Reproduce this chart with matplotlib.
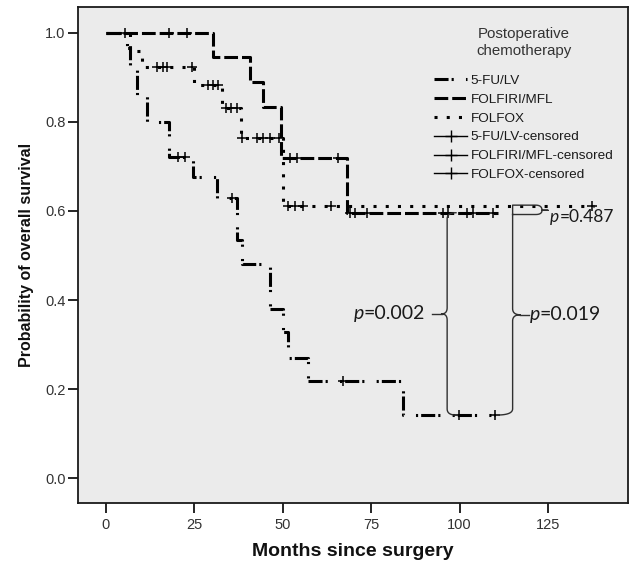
import matplotlib
matplotlib.use("Agg")
import matplotlib.pyplot as plt
import numpy as np
from matplotlib.lines import Line2D

# Kaplan-Meier step data (event times in months, survival after each step)
fu_times = [0, 6.0, 6.8, 9.0, 11.7, 18.0, 24.7, 31.5, 37.0, 38.5, 46.4, 50.1, 51.6, 57.2, 84.0]
fu_surv = [1.0, 0.965, 0.927, 0.859, 0.799, 0.721, 0.676, 0.629, 0.535, 0.481, 0.38, 0.329, 0.269, 0.218, 0.142]
fu_end = 110.0
fu_cens = [20.5, 22.4, 35.7, 67.0, 99.8, 110.0]

fir_times = [0, 30.3, 40.8, 44.4, 49.5, 68.2]
fir_surv = [1.0, 0.946, 0.890, 0.833, 0.719, 0.596]
fir_end = 111.0
fir_cens = [5.5, 18.0, 23.0, 52.0, 54.0, 65.6, 69.0, 70.5, 73.8, 95.3, 96.7, 102.0, 103.8, 109.5]

fox_times = [0, 6.9, 10.4, 25.0, 33.0, 38.3, 50.1]
fox_surv = [1.0, 0.958, 0.924, 0.883, 0.832, 0.764, 0.611]
fox_end = 138.0
fox_cens = [14.5, 16.3, 17.4, 24.4, 29.0, 30.4, 31.8, 34.0, 35.5, 37.0, 38.6, 42.7, 44.5, 46.4,
            49.0, 51.5, 53.5, 55.8, 63.6, 137.5]

legend_labels = ["5-FU/LV", "FOLFIRI/MFL", "FOLFOX",
                 "5-FU/LV-censored", "FOLFIRI/MFL-censored", "FOLFOX-censored"]
p_values = ["0.002", "0.019", "0.487"]

x_ticks = [0, 25, 50, 75, 100, 125]
y_ticks = [0.0, 0.2, 0.4, 0.6, 0.8, 1.0]

styles = {
    "fu": (0, (4.6, 1.0, 0.7, 4.0, 0.7, 1.0)),
    "fir": (0, (4.5, 1.3)),
    "fox": (0, (1.0, 3.0)),
}

plt.rcParams['font.family'] = ['Liberation Sans', 'DejaVu Sans']

fig = plt.figure(figsize=(6.3, 5.65), dpi=100)
ax = fig.add_axes([78/630, (565-503)/565, (628-78)/630, (503-7.3)/565])
ax.set_facecolor('#ebebeb')


def km_line(times, surv, end):
    t = list(times) + [end]
    s = list(surv) + [surv[-1]]
    return t, s


def surv_at(times, surv, tc):
    idx = np.searchsorted(times, tc, side='right') - 1
    return np.array(surv)[idx]


series = [
    (fu_times, fu_surv, fu_end, fu_cens, styles["fu"]),
    (fir_times, fir_surv, fir_end, fir_cens, styles["fir"]),
    (fox_times, fox_surv, fox_end, fox_cens, styles["fox"]),
]
for times, surv, end, cens, ls in series:
    t, s = km_line(times, surv, end)
    ax.step(t, s, where='post', color='black', lw=2.2, linestyle=ls,
            dash_capstyle='butt')
    ax.plot(cens, surv_at(times, surv, cens), linestyle='none', marker='+',
            color='black', markersize=7, mew=1.1)


def bez(p0, p1, p2, n=20):
    u = np.linspace(0, 1, n)[:, None]
    p0, p1, p2 = map(np.array, (p0, p1, p2))
    return (1-u)**2*p0 + 2*(1-u)*u*p1 + u**2*p2


def brace(x, y_top, y_bot, tip_dx, arm_top, arm_bot, r=0.014):
    y_tip = (y_top + y_bot) / 2
    pts = [bez((x+arm_top, y_top), (x, y_top), (x, y_top-r)),
           bez((x, y_tip+r), (x, y_tip), (x+tip_dx, y_tip)),
           bez((x+tip_dx, y_tip), (x, y_tip), (x, y_tip-r)),
           bez((x, y_bot+r), (x, y_bot), (x+arm_bot, y_bot))]
    p = np.vstack(pts)
    ax.plot(p[:, 0], p[:, 1], color='#303030', lw=1.0)
    return y_tip


fir_last = fir_surv[-1]
fox_last = fox_surv[-1]
fu_last = fu_surv[-1]

# left brace: FOLFIRI/MFL vs 5-FU/LV
yl = brace(96.5, fir_last, fu_last, -1.6, 2.5, 2.5)
ax.plot([92.3, 95.0], [yl, yl], color='#303030', lw=1.0)
# right brace: FOLFOX vs 5-FU/LV
lo_small = fir_last - 0.004
yr = brace(115.0, lo_small, fu_last, 2.2, 0.0, -4.5)
ax.plot([117.2, 119.5], [yr, yr], color='#303030', lw=1.0)
# small brace: FOLFOX vs FOLFIRI/MFL
ym = (fox_last + lo_small) / 2
p = np.vstack([
    [[115.0, lo_small], [121.5, lo_small]],
    bez((121.5, lo_small), (123.3, lo_small), (123.3, ym)),
    [[125.0, ym]],
    [[123.3, ym]],
    bez((123.3, ym), (123.3, fox_last + 0.002), (121.5, fox_last + 0.002)),
    [[115.0, fox_last + 0.002], [115.0, lo_small]],
])
ax.plot(p[:, 0], p[:, 1], color='#303030', lw=1.0)


def p_label(x, y, val, ha, size, fam):
    if ha == 'right':
        num = ax.text(x, y, '=' + val, ha='right', va='center', fontsize=size,
                      family=fam, color='#1a1a1a')
        ax.annotate('p', xy=(0, 0), xycoords=num, ha='right', va='bottom',
                    fontsize=size, family=fam, style='italic', color='#1a1a1a')
    else:
        pt = ax.text(x, y, 'p', ha='left', va='center', fontsize=size,
                     family=fam, style='italic', color='#1a1a1a')
        ax.annotate('=' + val, xy=(1, 0), xycoords=pt, ha='left', va='bottom',
                    fontsize=size, family=fam, color='#1a1a1a')


p_label(90.3, yl, p_values[0], 'right', 14, 'Lato')
p_label(119.8, yr, p_values[1], 'left', 14, 'Lato')
p_label(125.6, ym - 0.016, p_values[2], 'left', 12.5, 'Lato')

ax.set_xlim(-7.8, 147.6)
ax.set_ylim(-0.0554, 1.057)
ax.set_xticks(x_ticks)
ax.set_yticks(y_ticks)
ax.set_yticklabels([f"{v:.1f}" for v in y_ticks])
ax.tick_params(direction='out', length=7, width=1.2, color='black',
               labelcolor='#333333', labelsize=10.5, pad=2)
ax.tick_params(axis='x', pad=4)
for sp in ax.spines.values():
    sp.set_color('#1a1a1a')
    sp.set_linewidth(1.3)

ax.set_xlabel('Months since surgery', fontsize=14, fontweight='bold', labelpad=8,
              color='#111111')
ax.set_ylabel('Probability of overall survival', fontsize=11.5, fontweight='bold',
              labelpad=8, color='#111111')

handles = [
    Line2D([], [], color='black', lw=2.2, linestyle=styles["fu"]),
    Line2D([], [], color='black', lw=2.2, linestyle=styles["fir"]),
    Line2D([], [], color='black', lw=2.2, linestyle=styles["fox"]),
    Line2D([], [], color='black', lw=1.0, marker='+', markersize=9, mew=1.0),
    Line2D([], [], color='black', lw=1.0, marker='+', markersize=9, mew=1.0),
    Line2D([], [], color='black', lw=1.0, marker='+', markersize=9, mew=1.0),
]
leg = ax.legend(handles, legend_labels, title='Postoperative\nchemotherapy',
                loc='upper right', bbox_to_anchor=(623/630, (565-18)/565),
                bbox_transform=fig.transFigure, frameon=False, fontsize=9.7,
                title_fontsize=10.8, handlelength=2.4, handletextpad=0.3,
                labelspacing=0.48, borderpad=0.2)
leg._legend_box.sep = 12
leg.get_title().set_color('#333333')
leg.get_title().set_multialignment('center')
for t in leg.get_texts():
    t.set_color('#1a1a1a')

fig.savefig('out.png', dpi=100, facecolor='white')
